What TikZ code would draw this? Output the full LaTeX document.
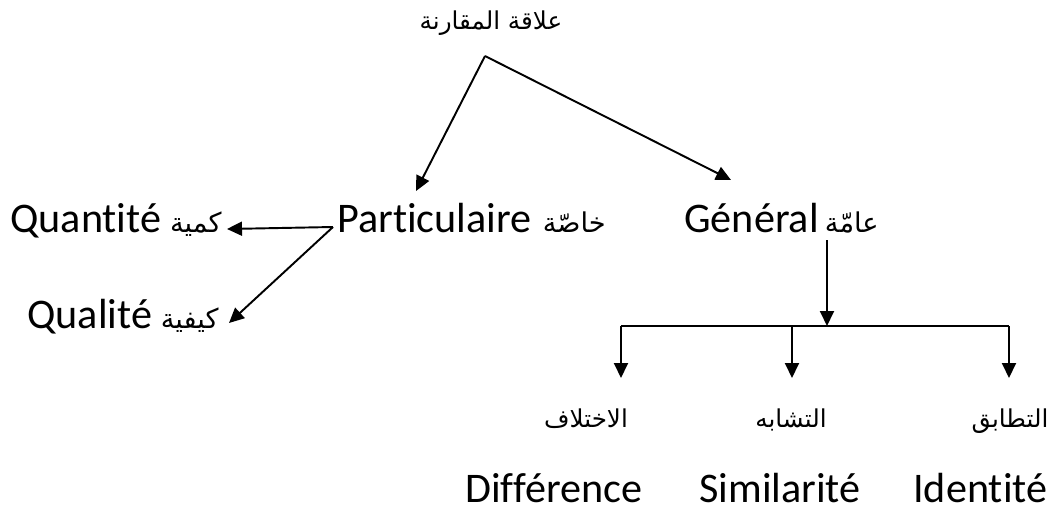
\documentclass[tikz,border=0pt]{standalone}
\usepackage{fontspec}
\setmainfont[Ligatures={NoCommon}]{Carlito}
\newfontfamily\arabicfont[Script=Arabic]{DejaVu Sans}
\TeXXeTstate=1
\usetikzlibrary{arrows.meta}
\begin{document}
\begin{tikzpicture}[x=0.02cm,y=-0.02cm,
  lat/.style={inner sep=0pt,font=\fontsize{24}{28}\selectfont},
  ar/.style={inner sep=0pt,font=\arabicfont\fontsize{14}{16}\selectfont},
  armid/.style={inner sep=0pt,font=\arabicfont\fontsize{15.5}{18}\selectfont},
  conn/.style={line width=1.1pt},
  arr/.style={conn,-{Triangle[length=0.3cm,width=0.28cm]}}]
\useasboundingbox (0,0) rectangle (1056,511);
% title
\node[ar,anchor=base] (title) at (491,29) {\beginR علاقة المقارنة\endR};
% middle row
\node[lat,anchor=base west] (part) at (337,232) {Particulaire};
\node[armid,anchor=base east] (partar) at (606,232) {\beginR خاصّة\endR};
\node[lat,anchor=base west] (gen) at (684,232) {Général};
\node[armid,anchor=base east] (genar) at (879,232) {\beginR عامّة\endR};
\node[lat,anchor=base west] (quant) at (10,232) {Quantité};
\node[armid,anchor=base east] (quantar) at (222,232) {\beginR كمية\endR};
\node[lat,anchor=base west] (qual) at (27,328) {Qualité};
\node[armid,anchor=base east] (qualar) at (219,328) {\beginR كيفية\endR};
% bottom
\node[ar,anchor=base] (diffar) at (586,427) {\beginR الاختلاف\endR};
\node[ar,anchor=base] (simar) at (791,427) {\beginR التشابه\endR};
\node[ar,anchor=base] (idar) at (1010,427) {\beginR التطابق\endR};
\node[lat,anchor=base west] (diff) at (465,502) {Différence};
\node[lat,anchor=base west] (sim) at (699,502) {Similarité};
\node[lat,anchor=base west] (ident) at (913,502) {Identité};
% connector points
\coordinate (apex) at (485,56);
\coordinate (ptip) at (416,191);
\coordinate (gtip) at (731,180);
\coordinate (pbr) at (333,227);
\coordinate (quanttip) at (227,229);
\coordinate (qualtip) at (229,323);
\coordinate (gstart) at (827,240);
\coordinate (gend) at (827,326);
\coordinate (barl) at (621,326);
\coordinate (barm) at (792,326);
\coordinate (barr) at (1009,326);
\coordinate (tl) at (621,378);
\coordinate (tm) at (792,378);
\coordinate (tr) at (1009,378);
% connectors
\draw[arr] (apex) -- (ptip);
\draw[arr] (apex) -- (gtip);
\draw[arr] (pbr) -- (quanttip);
\draw[arr] (pbr) -- (qualtip);
\draw[arr] (gstart) -- (gend);
\draw[conn] (barl) -- (barr);
\draw[arr] (barl) -- (tl);
\draw[arr] (barm) -- (tm);
\draw[arr] (barr) -- (tr);
\end{tikzpicture}
\end{document}
